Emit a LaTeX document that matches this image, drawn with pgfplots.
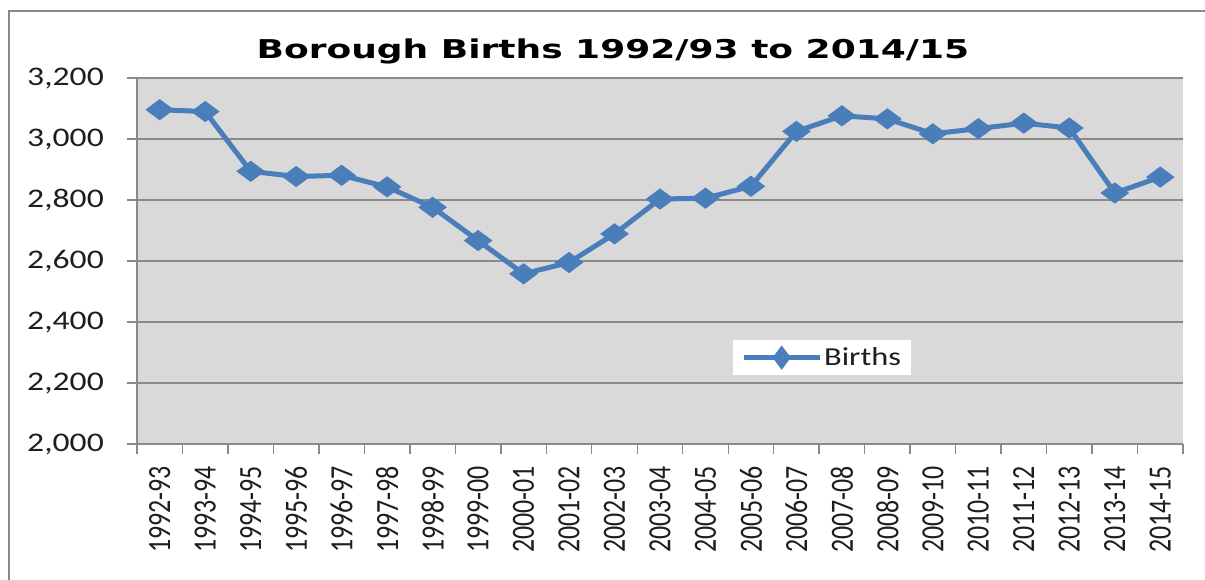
\documentclass[border=0pt]{standalone}
\usepackage{pgfplots}
\pgfplotsset{compat=1.18}
\usepackage{fontspec}
\setmainfont{Carlito}
\newfontfamily\tickfont[FakeStretch=1.25]{Carlito}
\newfontfamily\titlefont[FakeStretch=1.39]{DejaVu Sans}
\definecolor{bgray}{HTML}{D9D9D9}
\definecolor{ggray}{HTML}{8A8A8A}
\definecolor{ser}{HTML}{4A7EBB}
\definecolor{txt}{HTML}{1E1E1E}
\newcommand\sx[1]{\scalebox{1}[1.25]{#1}}
\begin{document}
\begin{tikzpicture}
\useasboundingbox (0,0) rectangle (1205bp,580bp);
\fill[white] (0,0) rectangle (1205bp,580bp);
\draw[ggray, line width=2.5bp] (9bp,-20bp) -- (9bp,569bp) -- (1230bp,569bp);
\begin{axis}[
  at={(137bp,136bp)}, anchor=south west,
  scale only axis, width=1046bp, height=366bp,
  xmin=-0.5, xmax=22.5, ymin=2000, ymax=3200,
  axis background/.style={fill=bgray},
  axis lines*=left,
  axis line style={-, draw=ggray, line width=1.4bp},
  ytick={2000,2200,...,3200},
  ymajorgrids, grid style={draw=ggray, line width=1.4bp},
  tick align=outside,
  major tick length=10bp,
  tick style={draw=ggray, line width=1.4bp},
  xtick={-0.5,0.5,...,22.5}, xticklabels={},
  extra x ticks={0,1,...,22},
  extra x tick style={major tick length=0pt, grid=none},
  extra x tick labels={\sx{1992-93},\sx{1993-94},\sx{1994-95},\sx{1995-96},\sx{1996-97},\sx{1997-98},\sx{1998-99},\sx{1999-00},\sx{2000-01},\sx{2001-02},\sx{2002-03},\sx{2003-04},\sx{2004-05},\sx{2005-06},\sx{2006-07},\sx{2007-08},\sx{2008-09},\sx{2009-10},\sx{2010-11},\sx{2011-12},\sx{2012-13},\sx{2013-14},\sx{2014-15}},
  xticklabel style={font=\fontsize{26}{26}\selectfont, text=txt, rotate=90, anchor=east, inner sep=0pt},
  xticklabel shift=22bp,
  yticklabel style={font=\fontsize{27}{27}\tickfont, text=txt, anchor=east, inner sep=0pt},
  yticklabel shift=23bp,
  /pgf/number format/.cd, 1000 sep={,}, assume math mode=true, /pgfplots/.cd,
  title={Borough Births 1992/93 to 2014/15},
  title style={font=\fontsize{26}{26}\titlefont\bfseries, text=black, at={(0.455,1)}, anchor=base, yshift=14bp},
  legend style={draw=none, fill=white, at={(0.655,0.236)}, anchor=center,
    font=\fontsize{26}{26}\tickfont, text=txt, inner xsep=8bp, inner ysep=6bp},
  legend image code/.code={\draw[#1, mark repeat=2, mark phase=2, mark options={scale=0.8}] plot coordinates {(0bp,0bp) (38bp,0bp) (76bp,0bp)};},
]
\addplot[color=ser, line width=5bp, mark=diamond*, mark size=10bp,
  mark options={xscale=1.8, line width=1bp, fill=ser}]
coordinates {
(0,3096) (1,3090) (2,2894) (3,2877) (4,2881) (5,2843) (6,2776) (7,2667)
(8,2558) (9,2595) (10,2689) (11,2803) (12,2806) (13,2845) (14,3025)
(15,3076) (16,3066) (17,3017) (18,3034) (19,3052) (20,3036) (21,2823) (22,2875)
};
\addlegendentry{Births}
\end{axis}
\end{tikzpicture}
\end{document}
